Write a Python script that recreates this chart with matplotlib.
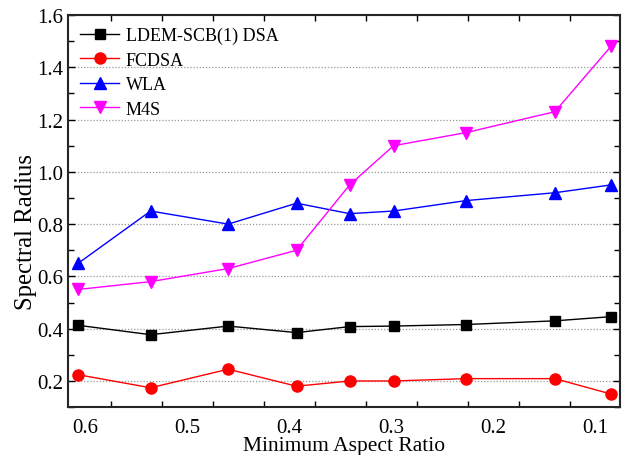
import numpy as np
import matplotlib
matplotlib.use("Agg")
import matplotlib.pyplot as plt

# Minimum aspect ratio for each test case (axis runs from 0.6 down to 0.1)
aspect_ratio = [0.607, 0.536, 0.460, 0.393, 0.341, 0.298, 0.227, 0.140, 0.085]

ldem_scb = [0.413, 0.377, 0.410, 0.385, 0.408, 0.410, 0.416, 0.430, 0.446]
fcdsa    = [0.224, 0.174, 0.245, 0.180, 0.200, 0.200, 0.209, 0.209, 0.150]
wla      = [0.65, 0.85, 0.80, 0.88, 0.84, 0.85, 0.89, 0.92, 0.95]
m4s      = [0.55, 0.58, 0.63, 0.70, 0.95, 1.10, 1.15, 1.23, 1.48]

x_labels = [0.6, 0.5, 0.4, 0.3, 0.2, 0.1]
y_ticks  = [0.2, 0.4, 0.6, 0.8, 1.0, 1.2, 1.4, 1.6]

plt.rcParams["font.family"] = ["Liberation Serif", "DejaVu Serif"]

fig = plt.figure(figsize=(6.29, 4.56), dpi=100)
ax = fig.add_axes([0.108, 0.105, 0.878, 0.860])

ax.plot(aspect_ratio, ldem_scb, "-s", color="black", lw=1.0, ms=7,
        label="LDEM-SCB(1) DSA", zorder=3)
ax.plot(aspect_ratio, fcdsa, "-o", color="red", lw=1.0, ms=8,
        label="FCDSA", zorder=3)
ax.plot(aspect_ratio, wla, "-^", color="blue", lw=1.0, ms=8,
        label="WLA", zorder=3)
ax.plot(aspect_ratio, m4s, "-v", color="magenta", lw=1.0, ms=8,
        label="M4S", zorder=3)

ax.set_xlim(0.617, 0.076)
ax.set_ylim(0.1, 1.6)

ax.set_xticks(x_labels)
ax.set_xticklabels([f"{v:.1f}" for v in x_labels])
ax.set_xticks(np.arange(0.575, 0.1, -0.05), minor=True)
ax.set_yticks(y_ticks)
ax.set_yticklabels([f"{v:.1f}" for v in y_ticks])
ax.set_yticks(np.arange(0.1, 1.61, 0.1), minor=True)

ax.tick_params(axis="x", which="major", length=0, labelsize=15, pad=8)
ax.tick_params(axis="x", which="minor", direction="in", length=4,
               top=True, bottom=True, width=1)
ax.tick_params(axis="y", which="both", direction="in", left=True, right=True,
               width=1, labelsize=15)
ax.tick_params(axis="y", which="major", length=5)
ax.tick_params(axis="y", which="minor", length=4)

ax.yaxis.grid(True, which="major", linestyle=(0, (1, 1.5)), color="0.6", lw=0.9)
for sp in ax.spines.values():
    sp.set_linewidth(1.5)
    sp.set_color("0.15")

ax.set_xlabel("Minimum Aspect Ratio", fontsize=15.5)
ax.xaxis.set_label_coords(0.5, -0.074)
ax.set_ylabel("Spectral Radius", fontsize=17.8)
ax.yaxis.set_label_coords(-0.056, 0.449)

ax.legend(loc="upper left", frameon=False, fontsize=13, handlelength=2.2,
          handletextpad=0.35, labelspacing=0.42, borderaxespad=0.15,
          borderpad=0.5)

fig.savefig("out.png", dpi=100)
